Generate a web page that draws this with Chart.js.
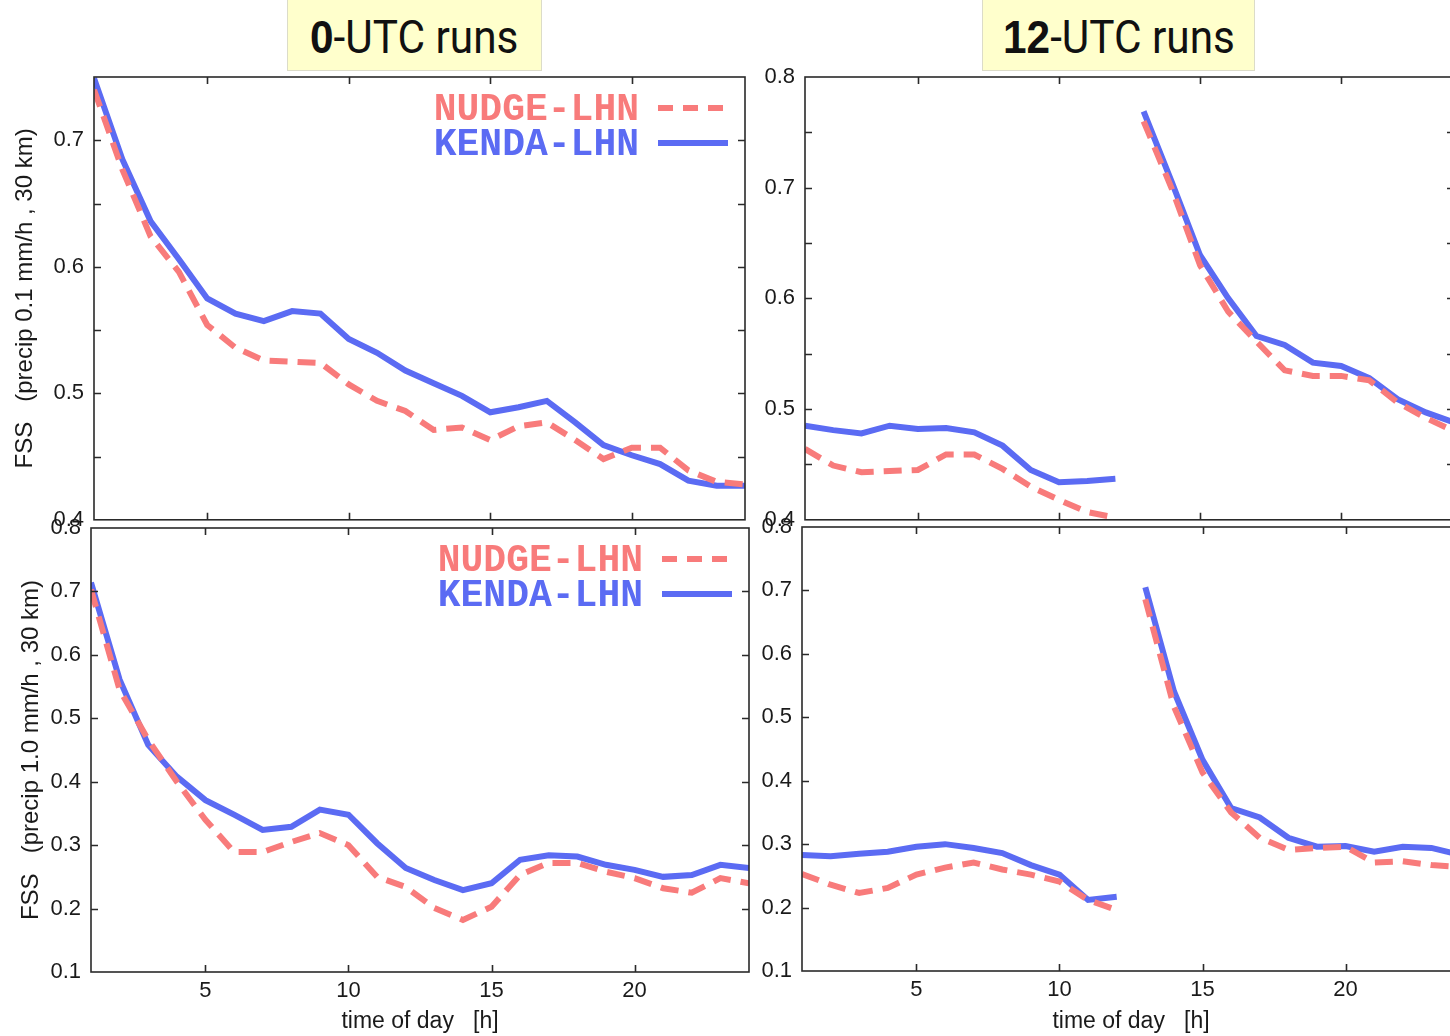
<!DOCTYPE html>
<html>
<head>
<meta charset="utf-8">
<title>FSS 0-UTC / 12-UTC runs</title>
<script src="https://cdn.jsdelivr.net/npm/chart.js@4.4.1/dist/chart.umd.min.js"></script>
<style>
  html, body { margin: 0; padding: 0; background: #fff; width: 1450px; height: 1036px; overflow: hidden; position: relative; }
  .runbox {
    position: absolute; top: 0; height: 71px; box-sizing: border-box;
    background: #ffffcc; border: 1px solid #dcdcc8; border-top: none;
    font-family: "Liberation Sans Narrow", "Roboto", sans-serif; font-size: 46px; color: #111;
    text-align: center; line-height: 71px; padding-top: 2px;
  }
  .runbox span { display: inline-block; transform: scaleX(0.92); }
  .runbox b { font-family: "Liberation Sans", Arial, sans-serif; }
  canvas { position: absolute; }
</style>
</head>
<body>
<div class="runbox" style="left:287px;width:255px"><span><b>0</b>-UTC runs</span></div>
<div class="runbox" style="left:982px;width:273px"><span><b>12</b>-UTC runs</span></div>
<canvas id="c00"></canvas>
<canvas id="c12"></canvas>
<canvas id="b00"></canvas>
<canvas id="b12"></canvas>
<script>
// time of day [h]
const hours = [1, 2, 3, 4, 5, 6, 7, 8, 9, 10, 11, 12, 13, 14, 15, 16, 17, 18, 19, 20, 21, 22, 23, 24];
const xTicks = [5, 10, 15, 20];

// FSS, precip 0.1 mm/h, 30 km
const nudge00_01 = [0.740, 0.677, 0.624, 0.596, 0.554, 0.536, 0.526, 0.525, 0.524, 0.507, 0.494, 0.486,
                    0.471, 0.473, 0.463, 0.474, 0.477, 0.463, 0.448, 0.457, 0.457, 0.439, 0.430, 0.428];
const kenda00_01 = [0.749, 0.685, 0.636, 0.606, 0.575, 0.563, 0.557, 0.565, 0.563, 0.543, 0.532, 0.518,
                    0.508, 0.498, 0.485, 0.489, 0.494, 0.477, 0.459, 0.451, 0.444, 0.431, 0.427, 0.427];
const nudge12_01 = [0.464, 0.449, 0.443, 0.444, 0.445, 0.459, 0.459, 0.446, 0.430, 0.418, 0.407, 0.402,
                    0.760, 0.699, 0.630, 0.588, 0.561, 0.535, 0.530, 0.530, 0.526, 0.506, 0.492, 0.480];
const kenda12_01 = [0.485, 0.481, 0.478, 0.485, 0.482, 0.483, 0.479, 0.467, 0.445, 0.434, 0.435, 0.437,
                    0.769, 0.705, 0.639, 0.600, 0.566, 0.558, 0.542, 0.539, 0.528, 0.509, 0.497, 0.488];

// FSS, precip 1.0 mm/h, 30 km
const nudge00_10 = [0.703, 0.545, 0.466, 0.400, 0.340, 0.289, 0.289, 0.305, 0.319, 0.300, 0.250, 0.234,
                    0.201, 0.182, 0.203, 0.253, 0.272, 0.272, 0.258, 0.248, 0.232, 0.225, 0.248, 0.240];
const kenda00_10 = [0.714, 0.561, 0.458, 0.408, 0.371, 0.348, 0.324, 0.329, 0.356, 0.348, 0.303, 0.264,
                    0.245, 0.229, 0.240, 0.277, 0.284, 0.282, 0.269, 0.261, 0.250, 0.253, 0.269, 0.264];
const nudge12_10 = [0.253, 0.236, 0.223, 0.231, 0.252, 0.263, 0.271, 0.260, 0.252, 0.241, 0.212, 0.196,
                    0.686, 0.517, 0.413, 0.350, 0.310, 0.291, 0.294, 0.296, 0.271, 0.273, 0.267, 0.264];
const kenda12_10 = [0.283, 0.281, 0.285, 0.288, 0.296, 0.300, 0.294, 0.286, 0.267, 0.252, 0.212, 0.217,
                    0.705, 0.541, 0.433, 0.357, 0.342, 0.310, 0.296, 0.297, 0.288, 0.296, 0.294, 0.283];

const RED = '#f87b7b';
const BLUE = '#5b6bf3';
const tickFont = { family: '"Liberation Sans", Arial, sans-serif', size: 22 };

// frame with inward ticks on all four sides + gnuplot-like legend
const framePlugin = {
  id: 'frame',
  afterDatasetsDraw(chart, args, opts) {
    const { ctx, chartArea: a } = chart;
    const x = chart.scales.x, y = chart.scales.y;
    const tl = 7;
    ctx.save();
    ctx.strokeStyle = '#2a2a2a';
    ctx.lineWidth = 1.6;
    ctx.strokeRect(a.left, a.top, a.right - a.left, a.bottom - a.top);
    ctx.beginPath();
    x.ticks.forEach(t => {
      const px = Math.round(x.getPixelForValue(t.value)) + 0.5;
      ctx.moveTo(px, a.top); ctx.lineTo(px, a.top + tl);
      ctx.moveTo(px, a.bottom); ctx.lineTo(px, a.bottom - tl);
    });
    y.ticks.forEach(t => {
      if (t.value <= y.min + 1e-9 || t.value >= y.max - 1e-9) return;
      const py = Math.round(y.getPixelForValue(t.value)) + 0.5;
      ctx.moveTo(a.left, py); ctx.lineTo(a.left + tl, py);
      ctx.moveTo(a.right, py); ctx.lineTo(a.right - tl, py);
    });
    ctx.stroke();

    if (opts.legend) {
      ctx.font = 'bold 38px "Liberation Mono", "DejaVu Sans Mono", monospace';
      ctx.textAlign = 'right';
      ctx.textBaseline = 'middle';
      chart.data.datasets.forEach((ds, i) => {
        const cy = a.top + 31 + i * 35;
        ctx.fillStyle = ds.borderColor;
        ctx.fillText(ds.label, a.right - 106, cy + 2);
        ctx.beginPath();
        ctx.strokeStyle = ds.borderColor;
        ctx.lineWidth = 6;
        ctx.setLineDash(ds.borderDash ? [15, 10] : []);
        ctx.moveTo(a.right - 87, cy);
        ctx.lineTo(a.right - 17, cy);
        ctx.stroke();
      });
    }
    ctx.restore();
  }
};

// one panel = one chart; area is the plot frame in page pixels
const makePanel = (p) => {
  const [L, T, R, B] = p.area;
  const ML = p.ml, MT = 30, MR = 24, MB = p.mb;
  const canvas = document.getElementById(p.id);
  canvas.width = R - L + ML + MR;
  canvas.height = B - T + MT + MB;
  canvas.style.left = (L - ML) + 'px';
  canvas.style.top = (T - MT) + 'px';

  // the 12-UTC curves restart at 13 h, so the 12 -> 13 link is not drawn
  const gap = { borderColor: ctx => (p.split && ctx.p0.parsed.x === 12) ? 'rgba(0,0,0,0)' : undefined };

  return new Chart(canvas.getContext('2d'), {
    type: 'line',
    data: {
      labels: hours,
      datasets: [
        {
          label: 'NUDGE-LHN',
          data: p.nudge,
          borderColor: RED,
          borderWidth: 6,
          borderDash: [18, 10],
          pointRadius: 0,
          tension: 0,
          segment: gap
        },
        {
          label: 'KENDA-LHN',
          data: p.kenda,
          borderColor: BLUE,
          borderWidth: 6,
          pointRadius: 0,
          tension: 0,
          segment: gap
        }
      ]
    },
    options: {
      responsive: false,
      animation: false,
      events: [],
      layout: { padding: { top: MT, right: MR, left: 0, bottom: 0 } },
      plugins: {
        legend: { display: false },
        tooltip: { enabled: false },
        frame: { legend: p.legend }
      },
      scales: {
        x: {
          type: 'linear',
          min: 1,
          max: 24,
          afterBuildTicks: s => { s.ticks = xTicks.map(v => ({ value: v })); },
          afterFit: s => { s.height = MB; },
          grid: { display: false, drawTicks: false },
          border: { display: false },
          ticks: { display: p.xTitle !== null, font: tickFont, color: '#1a1a1a', padding: 6, maxRotation: 0 },
          title: {
            display: p.xTitle !== null,
            text: p.xTitle || '',
            font: { family: '"Liberation Sans", Arial, sans-serif', size: 23 },
            color: '#1a1a1a',
            padding: { top: 0, bottom: 1 }
          }
        },
        y: {
          min: p.yMin,
          max: p.yMax,
          afterFit: s => { s.width = ML; },
          grid: { display: false, drawTicks: false },
          border: { display: false },
          ticks: {
            stepSize: p.step,
            font: tickFont,
            color: '#1a1a1a',
            padding: 10,
            autoSkip: false,
            callback: v => Math.abs(v * 10 - Math.round(v * 10)) < 1e-6 ? v.toFixed(1) : ''
          },
          title: {
            display: p.yTitle !== null,
            text: p.yTitle || '',
            font: { family: '"Liberation Sans", Arial, sans-serif', size: 24 },
            color: '#1a1a1a',
            padding: { top: p.titlePad || 0, bottom: 0 }
          }
        }
      }
    },
    plugins: [framePlugin]
  });
};

const panels = [
  { id: 'c00', area: [94, 77, 745, 523], ml: 94, mb: 20, yMin: 0.4, yMax: 0.75, step: 0.05,
    nudge: nudge00_01, kenda: kenda00_01, yTitle: 'FSS   (precip 0.1 mm/h , 30 km)', titlePad: 11,
    xTitle: null, legend: true, split: false },
  { id: 'c12', area: [805, 77, 1454, 523], ml: 70, mb: 20, yMin: 0.4, yMax: 0.8, step: 0.05,
    nudge: nudge12_01, kenda: kenda12_01, yTitle: null, xTitle: null, legend: false, split: true },
  { id: 'b00', area: [91, 528, 749, 972], ml: 91, mb: 64, yMin: 0.1, yMax: 0.8, step: 0.1,
    nudge: nudge00_10, kenda: kenda00_10, yTitle: 'FSS   (precip 1.0 mm/h , 30 km)', titlePad: 17,
    xTitle: 'time of day   [h]', legend: true, split: false },
  { id: 'b12', area: [802, 527, 1460, 971], ml: 70, mb: 65, yMin: 0.1, yMax: 0.8, step: 0.1,
    nudge: nudge12_10, kenda: kenda12_10, yTitle: null, xTitle: 'time of day   [h]', legend: false, split: true }
];

panels.forEach(makePanel);
</script>
</body>
</html>
